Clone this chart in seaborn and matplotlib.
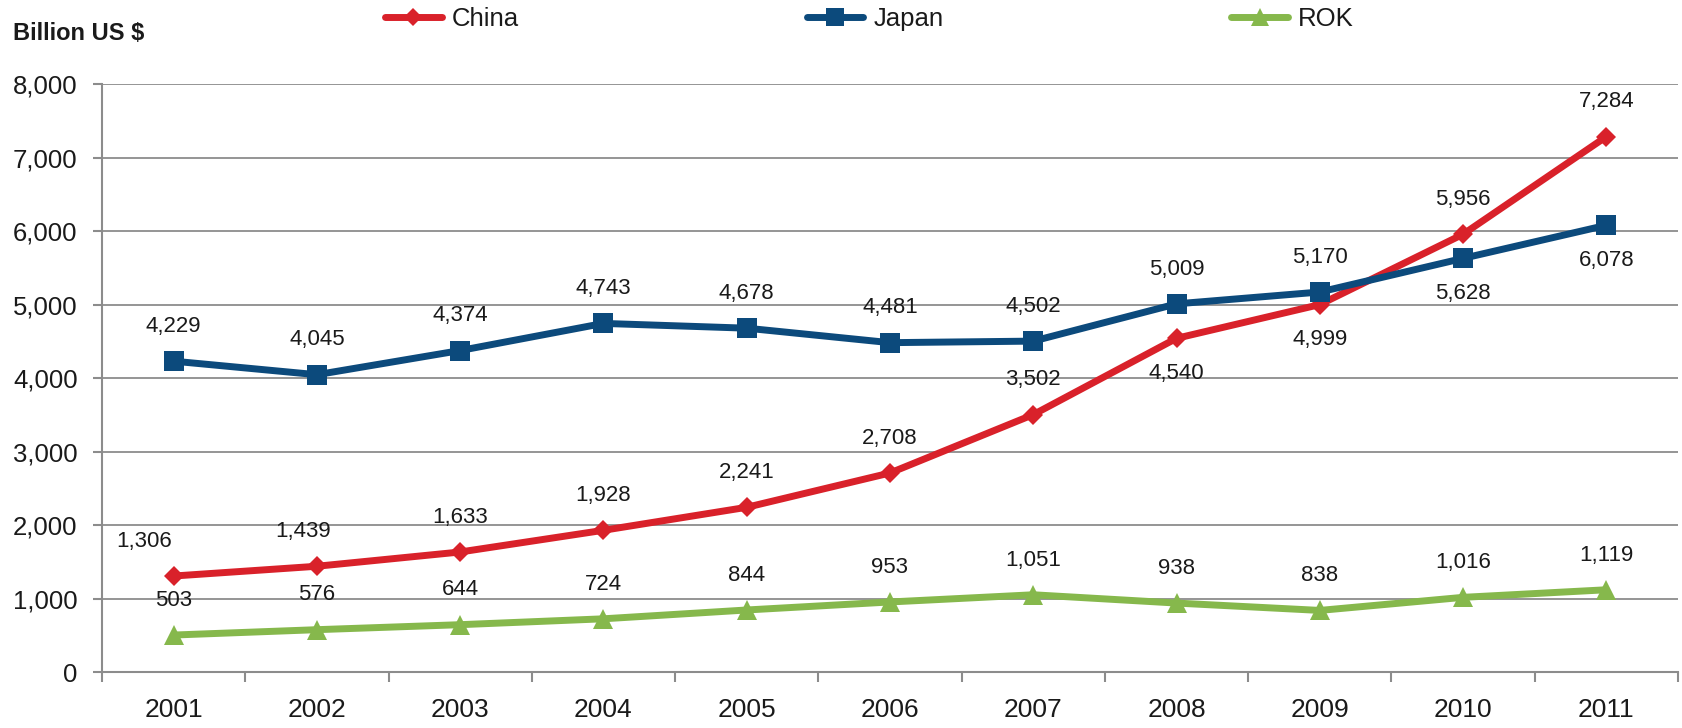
import matplotlib

matplotlib.use("Agg")

import matplotlib.pyplot as plt
import pandas as pd
import seaborn as sns
from matplotlib.ticker import FuncFormatter

years = list(range(2001, 2012))
countries = ["China", "Japan", "ROK"]
china = [1306, 1439, 1633, 1928, 2241, 2708, 3502, 4540, 4999, 5956, 7284]
japan = [4229, 4045, 4374, 4743, 4678, 4481, 4502, 5009, 5170, 5628, 6078]
rok = [503, 576, 644, 724, 844, 953, 1051, 938, 838, 1016, 1119]
y_ticks = [0, 1000, 2000, 3000, 4000, 5000, 6000, 7000, 8000]

df = pd.DataFrame(
    {
        "year": years * 3,
        "value": china + japan + rok,
        "country": [c for c in countries for _ in years],
    }
)

colors = {"China": "#d9212a", "Japan": "#0c4a7c", "ROK": "#86b84c"}
markers = {"China": "D", "Japan": "s", "ROK": "^"}
marker_sizes = {"China": 10.5, "Japan": 15, "ROK": 14}
# labels placed below the point instead of above
below = {("China", 2008), ("China", 2009), ("Japan", 2010), ("Japan", 2011)}
# small horizontal nudges (points)
nudge = {("China", 2001): -21, ("China", 2002): -10}

sns.set_style("white")
plt.rcParams["font.family"] = ["Liberation Sans", "DejaVu Sans"]
text_color = "#1a1a1a"
grid_color = "#8c8c8c"

fig = plt.figure(figsize=(16.83, 7.28), dpi=100)
ax = fig.add_axes([0.0606, 0.0769, 0.9364, 0.8077])

sns.lineplot(
    data=df,
    x="year",
    y="value",
    hue="country",
    style="country",
    hue_order=countries,
    style_order=countries,
    palette=colors,
    markers=markers,
    dashes=False,
    linewidth=5,
    markeredgewidth=0,
    legend=False,
    ax=ax,
    zorder=3,
)
for line, name in zip(ax.lines, countries):
    line.set_markersize(marker_sizes[name])
    line.set_clip_on(False)

for name, vals in zip(countries, [china, japan, rok]):
    for yr, v in zip(years, vals):
        dy = -25 if (name, yr) in below else 25
        ax.annotate(
            f"{v:,}",
            (yr, v),
            xytext=(nudge.get((name, yr), 0), dy),
            textcoords="offset points",
            ha="center",
            va="center",
            fontsize=16,
            color=text_color,
        )

ax.set_xlim(2000.5, 2011.5)
ax.set_ylim(0, 8000)
ax.set_yticks(y_ticks)
ax.yaxis.set_major_formatter(FuncFormatter(lambda v, p: f"{int(v):,}"))
ax.set_xticks(years)
ax.set_xticks([y - 0.5 for y in years] + [years[-1] + 0.5], minor=True)
ax.set_xticklabels([str(y) for y in years])
ax.set_xlabel("")
ax.set_ylabel("")

ax.grid(axis="y", color=grid_color, linewidth=1.3)
ax.grid(axis="x", visible=False)
for side in ["top", "right"]:
    ax.spines[side].set_visible(False)
for side in ["left", "bottom"]:
    ax.spines[side].set_color(grid_color)
    ax.spines[side].set_linewidth(1.5)

ax.tick_params(axis="x", which="major", length=0, pad=19, labelsize=19, labelcolor=text_color)
ax.tick_params(axis="x", which="minor", length=7, width=1.5, color=grid_color, direction="out", bottom=True)
ax.tick_params(axis="y", length=6.5, width=1.5, color=grid_color, pad=11, labelsize=18.5, labelcolor=text_color, left=True)

fig.text(13 / 1683, 1 - 33 / 728, "Billion US $", fontsize=17, fontweight="bold", color=text_color, va="center")

fig.legend(
    handles=ax.lines[:3],
    labels=countries,
    loc="center left",
    bbox_to_anchor=(385 / 1683, 1 - 19 / 728),
    ncol=3,
    frameon=False,
    fontsize=18.5,
    handlelength=2.2,
    handletextpad=0.4,
    columnspacing=11.2,
    borderpad=0,
    borderaxespad=0,
    markerscale=0.9,
    labelcolor=text_color,
)

fig.savefig("out.png", dpi=100, facecolor="white")
